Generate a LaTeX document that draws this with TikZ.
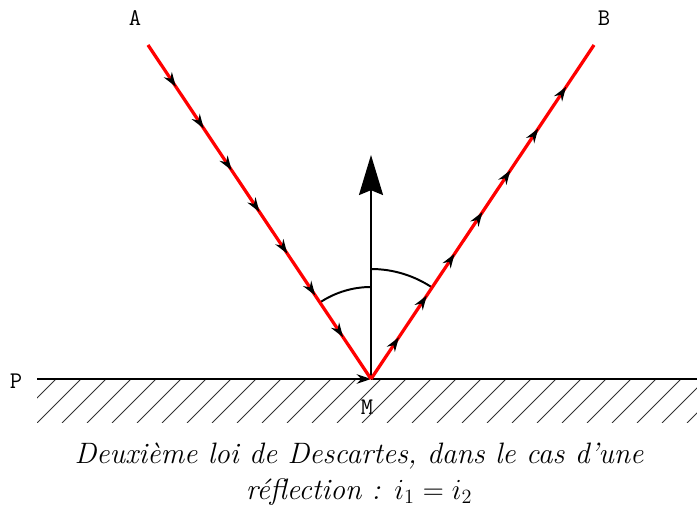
\documentclass[tikz,border=0pt]{standalone}
\usepackage{amsmath,amssymb}
\usepackage{fontspec}
\usepackage{tikz}
\usetikzlibrary{arrows.meta,positioning,calc,decorations.markings}

\begin{document}
\begin{tikzpicture}[
		x=0.025cm,y=0.025cm,
		>=Stealth,
		every node/.style={font=\ttfamily\fontsize{17}{20}\selectfont},
		ray/.style={red, line width=2.3pt,
			postaction={decorate},
			decoration={markings,
				mark=between positions 0.125 and 0.875 step 0.125
				with {\arrow[black]{Stealth[length=3.6mm,width=2.4mm]}}}},
		plane/.style={line width=2pt},
		hatch/.style={line width=0.6pt, black!80}
		]
		\useasboundingbox (0,0) rectangle (697,512);
		
		% =========================
		% Points
		% =========================
		\coordinate (M) at (371,133);
		\coordinate (A) at (148,467);
		\coordinate (B) at (594,467);
		\coordinate (Pl) at (37,133);
		\coordinate (Pr) at (697,133);
		\coordinate (N) at (371,357);
		
		\node (labA) at (135,494) {A};
		\node (labB) at (604,494) {B};
		\node (labP) at (16,131) {P};
		\node (labM) at (367,105) {M};
		
		% =========================
		% Mirror plane and hatching
		% =========================
		\begin{scope}
			\clip (37,89) rectangle (697,132);
			\foreach \i in {0,...,28}
			\draw[hatch] (12+25*\i,89) -- ++(55,55);
		\end{scope}
		\draw[plane,-{Stealth[length=3.6mm,width=2.4mm]}] (Pl) -- (M);
		\draw[plane] (M) -- (Pr);
		
		% =========================
		% Normal and angles
		% =========================
		\draw[line width=1.4pt,-{Stealth[length=10mm,width=6mm,inset=1.2mm]}] (M) -- (N);
		\draw[line width=1.4pt] ($(M)+(90:92)$) arc[start angle=90,end angle=123.73,radius=92];
		\draw[line width=1.4pt] ($(M)+(90:110)$) arc[start angle=90,end angle=56.27,radius=110];
		
		% =========================
		% Incident and reflected rays
		% =========================
		\draw[ray] (A) -- (M);
		\draw[ray] (M) -- (B);
		
		% caption
		\node[font=\fontsize{21}{25.6}\selectfont\itshape, align=center] (cap) at (359,38)
		{Deuxième loi de Descartes, dans le cas d'une\\
			réflection : $i_1=i_2$};
		
	\end{tikzpicture}
\end{document}
